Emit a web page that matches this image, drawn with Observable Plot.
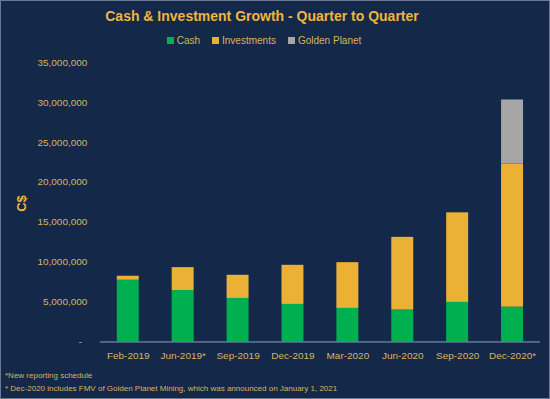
<!DOCTYPE html>
<html>
<head>
<meta charset="utf-8">
<script src="https://cdn.jsdelivr.net/npm/d3@7"></script>
<script src="https://cdn.jsdelivr.net/npm/@observablehq/plot@0.6"></script>
<style>
  html, body { margin: 0; padding: 0; background: #14284a; }
  #chart { position: relative; width: 548px; height: 397px; background: #14284a; border: 1px solid #6b7a92; overflow: hidden; font-family: "Liberation Sans", Arial, sans-serif; }
  #title { position: absolute; top: 7px; left: 0; width: 522px; text-align: center; color: #eeb63c; font-weight: bold; font-size: 14px; }
  #legend { position: absolute; top: 34px; left: 0; width: 526px; display: flex; justify-content: center; gap: 12px; color: #d9b45c; font-size: 10px; }
  #legend span.sw { display: inline-block; width: 7px; height: 7px; margin-right: 3px; vertical-align: 0px; }
  #ylabel { position: absolute; left: 12px; top: 195px; color: #eeb63c; font-weight: bold; font-size: 13px; transform: rotate(-90deg); transform-origin: center; }
  #plot { position: absolute; top: 49px; left: -1px; }
  #notes { position: absolute; top: 369px; left: 4px; color: #d9b45c; font-size: 8px; line-height: 12.5px; }
</style>
</head>
<body>
<div id="chart">
  <div id="title">Cash &amp; Investment Growth - Quarter to Quarter</div>
  <div id="legend"></div>
  <div id="ylabel">C$</div>
  <div id="plot"></div>
  <div id="notes">*New reporting schedule<br>* Dec-2020 includes FMV of Golden Planet Mining, which was announced on January 1, 2021</div>
</div>
<script>
const quarters = ["Feb-2019", "Jun-2019*", "Sep-2019", "Dec-2019", "Mar-2020", "Jun-2020", "Sep-2020", "Dec-2020*"];
const series = ["Cash", "Investments", "Golden Planet"];
const colors = ["#00b050", "#ebb134", "#a6a6a6"];
const cash = [7730000, 6440000, 5450000, 4700000, 4200000, 4000000, 4950000, 4360000];
const investments = [500000, 2870000, 2900000, 4900000, 5730000, 9100000, 11220000, 17920000];
const goldenPlanet = [0, 0, 0, 0, 0, 0, 0, 8020000];
const yTicks = [0, 5000000, 10000000, 15000000, 20000000, 25000000, 30000000, 35000000];

const values = [cash, investments, goldenPlanet];
const rows = [];
quarters.forEach((q, i) => {
  series.forEach((s, j) => rows.push({quarter: q, series: s, value: values[j][i]}));
});

const legend = document.getElementById("legend");
series.forEach((s, j) => {
  const item = document.createElement("div");
  item.innerHTML = `<span class="sw" style="background:${colors[j]}"></span>${s}`;
  legend.appendChild(item);
});

const fmt = d3.format(",");
const plot = Plot.plot({
  width: 550,
  height: 320,
  marginLeft: 100,
  marginRight: 9,
  marginTop: 12,
  marginBottom: 28,
  style: {background: "transparent", color: "#d9b45c", fontSize: "10px", fontFamily: "'Liberation Sans', Arial, sans-serif"},
  x: {domain: quarters, paddingInner: 0.6, paddingOuter: 0.3, label: null, tickSize: 0, tickPadding: 10},
  y: {domain: [0, 35000000], ticks: yTicks, label: null, tickSize: 0, tickPadding: 13,
      tickFormat: d => d === 0 ? "-\u00a0\u00a0" : fmt(d)},
  color: {domain: series, range: colors},
  marks: [
    Plot.barY(rows, Plot.stackY({order: series}, {x: "quarter", y: "value", fill: "series"})),
    Plot.ruleY([0], {stroke: "#8aa3c4", strokeWidth: 1})
  ]
});
document.getElementById("plot").appendChild(plot);
</script>
</body>
</html>
